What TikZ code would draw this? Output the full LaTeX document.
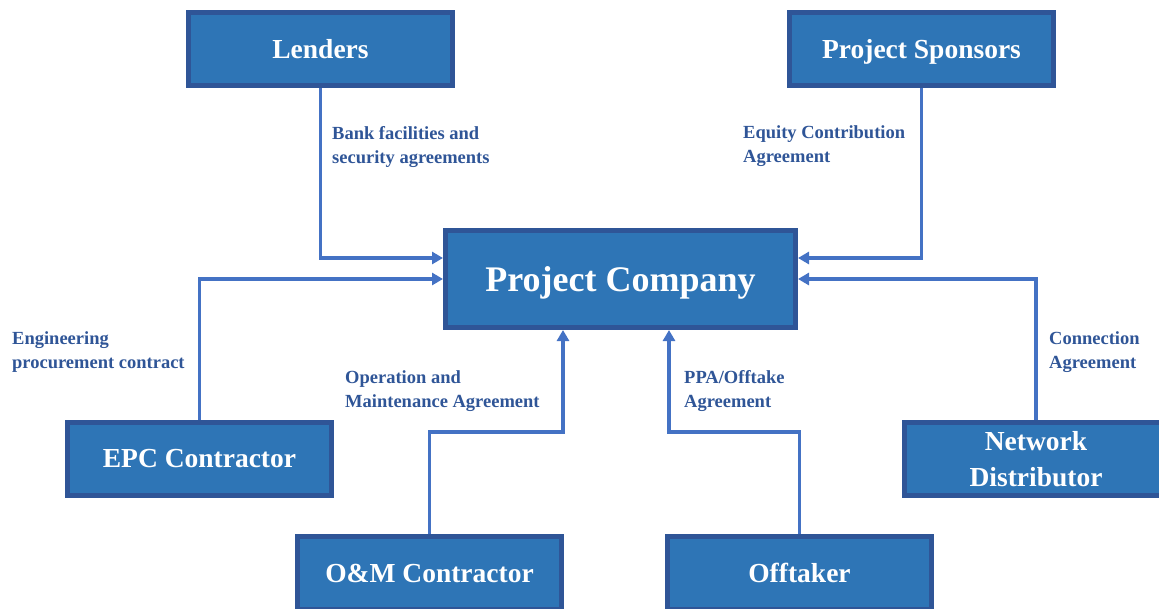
\documentclass[tikz,border=0pt]{standalone}
\usepackage{fontspec}
\setmainfont{Liberation Serif}
\usepackage{tikz}
\usetikzlibrary{arrows.meta, positioning, calc}
\usepackage{xcolor}
\definecolor{boxfill}{HTML}{2E75B6}
\definecolor{boxedge}{HTML}{2F5597}
\definecolor{linkblue}{HTML}{4472C4}
\definecolor{labelblue}{HTML}{2F5597}

\tikzset{
  party/.style={draw=boxedge, line width=5pt, fill=boxfill, text=white,
    font=\bfseries\fontsize{27.5}{36}\selectfont, minimum width=264pt, minimum height=73pt,
    align=center, inner sep=0pt, text depth=0pt},
  link/.style={linkblue, line width=3.5pt, -{Triangle[length=11pt, width=12pt]}},
  deal/.style={text=labelblue, font=\bfseries\fontsize{18.5}{24}\selectfont,
    align=left, anchor=base west, inner sep=0pt}
}

\begin{document}
\begin{tikzpicture}[x=1pt, y=-1pt]
    \useasboundingbox (0,0) rectangle (1159,608);

    % Parties
    \node[party] (lenders) at (320.5, 49) {Lenders};
    \node[party] (sponsors) at (921.5, 49) {Project Sponsors};
    \node[party, minimum width=350pt, minimum height=97pt, font=\bfseries\fontsize{36}{40}\selectfont] (company) at (620.5, 279) {Project Company};
    \node[party] (epc) at (199.5, 458.5) {EPC Contractor};
    \node[party] (network) at (1036, 458.5) {Network\\Distributor};
    \node[party] (om) at (429.5, 573) {O\&M Contractor};
    \node[party] (offtaker) at (799.5, 573) {Offtaker};

    % Contracts into the project company
    \draw[link] (lenders.south) |- ($(company.west)+(0,-21)$);
    \draw[link] (sponsors.south) |- ($(company.east)+(0,-21)$);
    \draw[link] (epc.north) |- (company.west);
    \draw[link] (network.north) |- (company.east);
    \draw[link] (om.north) -- ++(0,-102) -| ($(company.south)+(-57.5,0)$);
    \draw[link] (offtaker.north) -- ++(0,-102) -| ($(company.south)+(48.5,0)$);

    % Contract names (anchored on the baseline of the last line)
    \node[deal] (bank) at (332, 163) {Bank facilities and\\security agreements};
    \node[deal] (equity) at (743, 162) {Equity Contribution\\Agreement};
    \node[deal] (engineering) at (12, 368) {Engineering\\procurement contract};
    \node[deal] (operation) at (345, 407) {Operation and\\Maintenance Agreement};
    \node[deal] (ppa) at (684, 407) {PPA/Offtake\\Agreement};
    \node[deal] (connection) at (1049, 368) {Connection\\Agreement};
\end{tikzpicture}
\end{document}
